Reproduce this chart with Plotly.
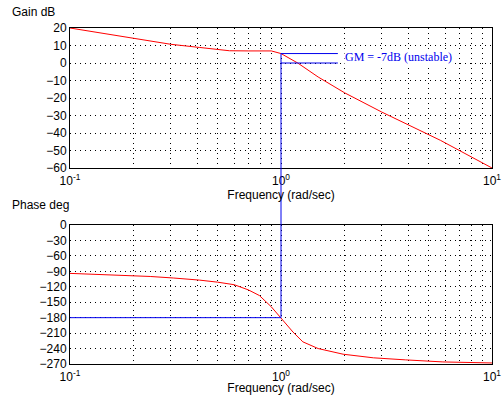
import plotly.graph_objects as go

# ---- data ----
freq_gain = [0.1, 0.2, 0.3, 0.41, 0.5, 0.57, 0.7, 0.9, 1.0, 1.2, 1.5, 2.0, 3.0, 5.7, 10.0]
gain_db = [20, 13.9, 10.7, 8.9, 7.6, 7.0, 6.9, 6.9, 5.4, 0.0, -8.0, -17.0, -28.0, -44.2, -60.0]

freq_phase = [0.1, 0.14, 0.19, 0.24, 0.31, 0.36, 0.41, 0.5, 0.6, 0.7, 0.79, 0.9, 1.0,
              1.14, 1.27, 1.5, 1.97, 2.74, 3.9, 5.85, 10.0]
phase_deg = [-94, -96, -98, -100, -103, -105, -107, -111, -116, -126, -137, -159, -180,
             -208, -227, -240, -251, -258, -262, -266, -268]

gm_freq = 1.0
gm_gain = 5.4
gm_line_end = 1.86
phase_cross = -180
gm_text = "GM = -7dB (unstable)"

gain_ticks = [20, 10, 0, -10, -20, -30, -40, -50, -60]
phase_ticks = [0, -30, -60, -90, -120, -150, -180, -210, -240, -270]
freq_ticks = [m * 10 ** e for e in (-1, 0) for m in range(1, 10)] + [10]
freq_ticktext = ["10<sup>-1</sup>" if v == 0.1 else "10<sup>0</sup>" if v == 1 else
                 "10<sup>1</sup>" if v == 10 else "" for v in freq_ticks]

RED = "#ff0000"
BLUE = "#0000ee"
FONT = "Liberation Sans, Arial, sans-serif"

fig = go.Figure()
# gain
fig.add_trace(go.Scatter(x=freq_gain, y=gain_db, mode="lines", line=dict(color=RED, width=1),
                         xaxis="x", yaxis="y", showlegend=False))
fig.add_trace(go.Scatter(x=[gm_freq, gm_freq], y=[gm_gain, -60], mode="lines",
                         line=dict(color=BLUE, width=1), xaxis="x", yaxis="y", showlegend=False))
fig.add_trace(go.Scatter(x=[gm_freq, gm_line_end], y=[gm_gain, gm_gain], mode="lines",
                         line=dict(color=BLUE, width=1), xaxis="x", yaxis="y", showlegend=False))
fig.add_trace(go.Scatter(x=[gm_freq, gm_line_end], y=[0, 0], mode="lines",
                         line=dict(color=BLUE, width=1), xaxis="x", yaxis="y", showlegend=False))
# phase
fig.add_trace(go.Scatter(x=freq_phase, y=phase_deg, mode="lines", line=dict(color=RED, width=1),
                         xaxis="x2", yaxis="y2", showlegend=False))
fig.add_trace(go.Scatter(x=[0.1, gm_freq], y=[phase_cross, phase_cross], mode="lines",
                         line=dict(color=BLUE, width=1), xaxis="x2", yaxis="y2", showlegend=False))
fig.add_trace(go.Scatter(x=[gm_freq, gm_freq], y=[0, phase_cross], mode="lines",
                         line=dict(color=BLUE, width=1), xaxis="x2", yaxis="y2", showlegend=False))

top_dom = [0.5833, 1.0]
bot_dom = [0.0, 0.4137]

xcommon = dict(type="log", range=[-1, 1], tickvals=freq_ticks, ticktext=freq_ticktext,
               showgrid=True, gridcolor="black", griddash="1px,4px", gridwidth=1,
               showline=True, mirror=True, linecolor="black", linewidth=1,
               ticks="", zeroline=False, automargin=False, ticklabelstandoff=2,
               tickfont=dict(size=12, color="black", family=FONT),
               title=dict(text="Frequency (rad/sec)", font=dict(size=12, color="black", family=FONT),
                          standoff=0))
ycommon = dict(showgrid=True, gridcolor="black", griddash="1px,4px", gridwidth=1,
               showline=True, mirror=True, linecolor="black", linewidth=1,
               ticks="", zeroline=False, automargin=False,
               tickfont=dict(size=12, color="black", family=FONT))

fig.update_layout(
    width=504, height=395,
    margin=dict(l=70, r=12, t=28, b=31, autoexpand=False),
    paper_bgcolor="white", plot_bgcolor="white",
    xaxis=dict(**xcommon, anchor="y", domain=[0, 1]),
    yaxis=dict(**ycommon, anchor="x", domain=top_dom, range=[-60, 20], tickvals=gain_ticks),
    xaxis2=dict(**xcommon, anchor="y2", domain=[0, 1]),
    yaxis2=dict(**ycommon, anchor="x2", domain=bot_dom, range=[-270, 0], tickvals=phase_ticks),
    font=dict(family=FONT, color="black", size=12),
    shapes=[dict(type="line", xref="paper", yref="paper", x0=0.5, x1=0.5,
                 y0=bot_dom[1], y1=top_dom[0], line=dict(color=BLUE, width=1), layer="above")],
    annotations=[
        dict(text="Gain dB", xref="paper", yref="paper", x=-60 / 422, y=1 + 16 / 336,
             xanchor="left", yanchor="middle", showarrow=False,
             font=dict(size=12, color="black", family=FONT)),
        dict(text="Phase deg", xref="paper", yref="paper", x=-60 / 422, y=bot_dom[1] + 20 / 336,
             xanchor="left", yanchor="middle", showarrow=False,
             font=dict(size=12, color="black", family=FONT)),
        dict(text=gm_text, xref="x", yref="y", x=0.2986, y=3.3, xanchor="left", yanchor="middle",
             showarrow=False, bgcolor="white", borderpad=0,
             font=dict(size=12, color=BLUE, family="Liberation Serif, Times New Roman, serif")),
    ],
)

fig.write_html("out.html", config={"displayModeBar": False},
               post_script="document.body.style.margin='0';document.body.style.overflow='hidden';")
